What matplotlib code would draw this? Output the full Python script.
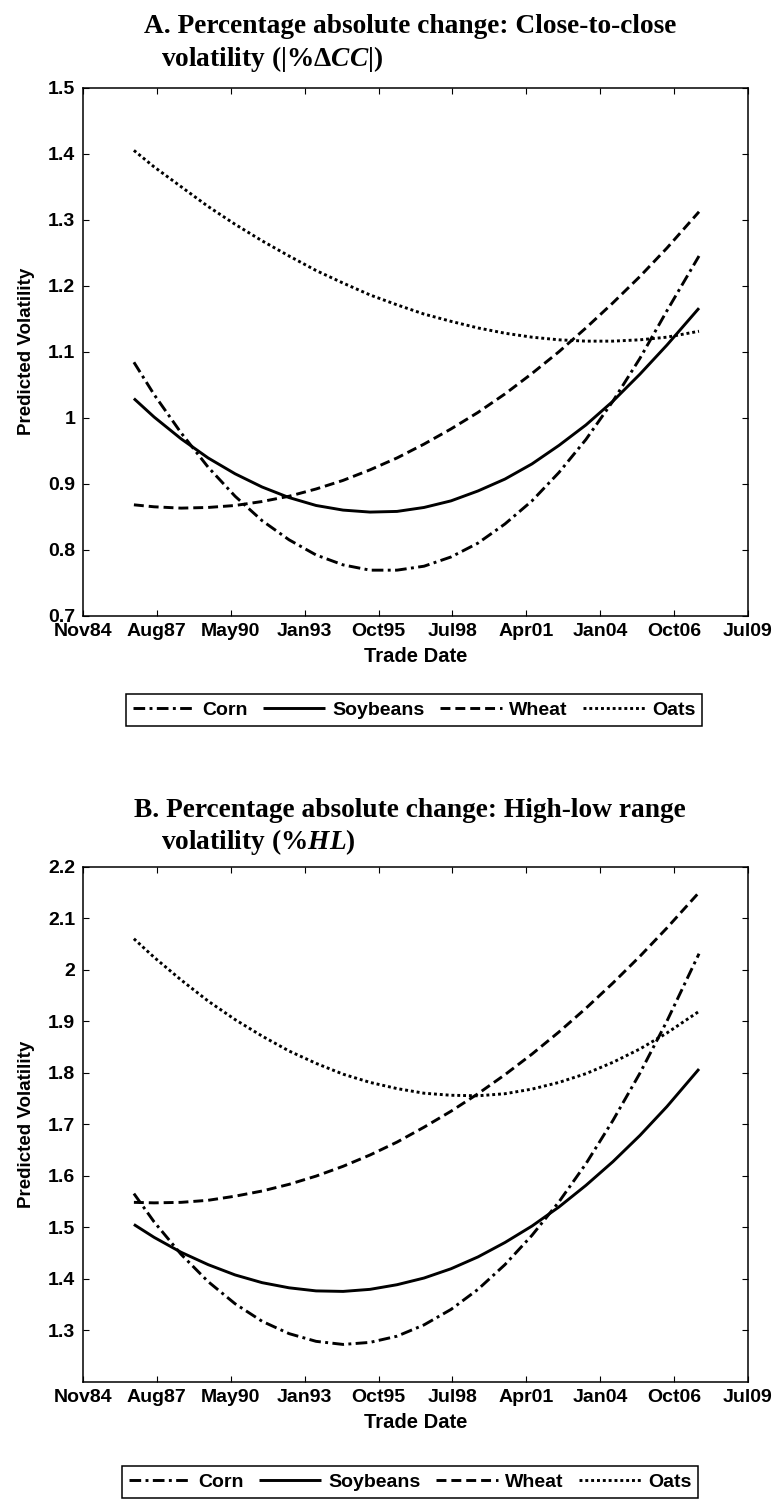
import matplotlib
matplotlib.use('Agg')
import matplotlib.pyplot as plt
import matplotlib.dates as mdates
from datetime import datetime, timedelta

# ---------------- data ----------------
sample_years = [1986.75, 1987.5, 1988.5, 1989.5, 1990.5, 1991.5, 1992.5, 1993.5,
                1994.5, 1995.5, 1996.5, 1997.5, 1998.5, 1999.5, 2000.5, 2001.5,
                2002.5, 2003.5, 2004.5, 2005.5, 2006.5, 2007.69]

# Panel A: close-to-close volatility
corn_cc = [1.084, 1.035, 0.977, 0.925, 0.881, 0.844, 0.815, 0.792, 0.777, 0.769, 0.769,
           0.775, 0.789, 0.810, 0.839, 0.874, 0.917, 0.967, 1.025, 1.090, 1.162, 1.245]
soy_cc = [1.029, 1.001, 0.968, 0.939, 0.915, 0.895, 0.879, 0.867, 0.860, 0.857, 0.858,
          0.864, 0.874, 0.889, 0.907, 0.930, 0.958, 0.989, 1.025, 1.066, 1.110, 1.166]
wheat_cc = [0.868, 0.865, 0.863, 0.864, 0.867, 0.873, 0.881, 0.892, 0.905, 0.921, 0.939,
            0.960, 0.983, 1.008, 1.036, 1.067, 1.100, 1.136, 1.174, 1.214, 1.257, 1.312]
oats_cc = [1.405, 1.380, 1.350, 1.320, 1.293, 1.268, 1.245, 1.223, 1.204, 1.186, 1.171,
           1.157, 1.146, 1.136, 1.128, 1.122, 1.118, 1.116, 1.116, 1.118, 1.122, 1.131]

# Panel B: high-low range volatility
corn_hl = [1.565, 1.510, 1.447, 1.394, 1.351, 1.317, 1.293, 1.278, 1.272, 1.276, 1.288,
           1.310, 1.340, 1.379, 1.427, 1.484, 1.549, 1.623, 1.707, 1.799, 1.900, 2.031]
soy_hl = [1.505, 1.480, 1.451, 1.427, 1.407, 1.392, 1.382, 1.376, 1.375, 1.379, 1.388,
          1.401, 1.419, 1.442, 1.470, 1.502, 1.539, 1.581, 1.627, 1.678, 1.734, 1.807]
wheat_hl = [1.548, 1.547, 1.548, 1.552, 1.560, 1.570, 1.583, 1.599, 1.618, 1.640, 1.665,
            1.694, 1.725, 1.759, 1.796, 1.836, 1.879, 1.925, 1.974, 2.026, 2.081, 2.150]
oats_hl = [2.060, 2.024, 1.980, 1.939, 1.903, 1.871, 1.842, 1.818, 1.797, 1.781, 1.769,
           1.760, 1.756, 1.755, 1.759, 1.768, 1.781, 1.798, 1.820, 1.846, 1.877, 1.919]

series_names = ['Corn', 'Soybeans', 'Wheat', 'Oats']
x_tick_labels = ['Nov84', 'Aug87', 'May90', 'Jan93', 'Oct95', 'Jul98',
                 'Apr01', 'Jan04', 'Oct06', 'Jul09']
x_tick_start = '1984-11-12'
x_tick_step_days = 1000
yticks_a = [0.7, 0.8, 0.9, 1.0, 1.1, 1.2, 1.3, 1.4, 1.5]
ytick_labels_a = ['0.7', '0.8', '0.9', '1', '1.1', '1.2', '1.3', '1.4', '1.5']
yticks_b = [1.3, 1.4, 1.5, 1.6, 1.7, 1.8, 1.9, 2.0, 2.1, 2.2]
ytick_labels_b = ['1.3', '1.4', '1.5', '1.6', '1.7', '1.8', '1.9', '2', '2.1', '2.2']

# ---------------- style ----------------
plt.rcParams['font.family'] = ['Liberation Sans', 'DejaVu Sans']
plt.rcParams['font.weight'] = 'bold'
plt.rcParams['mathtext.fontset'] = 'custom'
plt.rcParams['mathtext.it'] = 'Liberation Serif:italic:bold'
plt.rcParams['mathtext.rm'] = 'Liberation Serif:bold'
plt.rcParams['mathtext.bf'] = 'Liberation Serif:bold'


def year_to_date(y):
    yi = int(y)
    return datetime(yi, 1, 1) + timedelta(days=(y - yi) * 365.25)


xdates = [mdates.date2num(year_to_date(y)) for y in sample_years]
t0 = mdates.date2num(datetime.strptime(x_tick_start, '%Y-%m-%d'))
xticks = [t0 + k * x_tick_step_days for k in range(len(x_tick_labels))]

styles = {
    'Corn': (0, (4.0, 1.5, 1.0, 1.5)),
    'Soybeans': '-',
    'Wheat': (0, (3.4, 1.7)),
    'Oats': (0, (1.0, 1.0)),
}

W, H = 778, 1501
fig = plt.figure(figsize=(W / 100, H / 100), dpi=100)


def fx(px):
    return px / W


def fy(py):
    return 1 - py / H


def make_panel(rect, data, yticks, ylabels, ylim):
    ax = fig.add_axes(rect)
    handles = []
    for name, vals in zip(series_names, data):
        h, = ax.plot(xdates, vals, color='black', lw=2.1, linestyle=styles[name],
                     label=name, solid_capstyle='butt', dash_capstyle='butt')
        handles.append(h)
    ax.set_xlim(xticks[0], xticks[-1])
    ax.set_ylim(*ylim)
    ax.set_xticks(xticks)
    ax.set_xticklabels(x_tick_labels)
    ax.set_yticks(yticks)
    ax.set_yticklabels(ylabels)
    ax.tick_params(direction='in', top=True, right=True, length=4.3, width=0.8,
                   labelsize=14, pad=5.5)
    for lab in ax.get_xticklabels() + ax.get_yticklabels():
        lab.set_fontweight('bold')
    for sp in ax.spines.values():
        sp.set_linewidth(1.1)
    ax.set_xlabel('Trade Date', fontsize=14.5, fontweight='bold', labelpad=5)
    ax.set_ylabel('Predicted Volatility', fontsize=13.5, fontweight='bold')
    ax.yaxis.set_label_coords(-0.072, 0.5)
    return ax, handles


# Panel A
axA, hA = make_panel([fx(83), fy(615.7), fx(748) - fx(83), (615.7 - 87.7) / H],
                     [corn_cc, soy_cc, wheat_cc, oats_cc], yticks_a, ytick_labels_a, (0.7, 1.5))
# Panel B
axB, hB = make_panel([fx(83), fy(1381.5), fx(748) - fx(83), (1381.5 - 866.7) / H],
                     [corn_hl, soy_hl, wheat_hl, oats_hl], yticks_b, ytick_labels_b, (1.2, 2.2))

title_kw = dict(fontfamily='Liberation Serif', fontweight='bold', fontsize=19.7,
                ha='left', va='baseline')
fig.text(fx(144), fy(33), 'A. Percentage absolute change: Close-to-close', **title_kw)
fig.text(fx(161), fy(66.5), r'volatility (|%Δ$\mathit{CC}$|)', **title_kw)
fig.text(fx(134), fy(817), 'B. Percentage absolute change: High-low range', **title_kw)
fig.text(fx(161), fy(849), r'volatility (%$\mathit{HL}$)', **title_kw)

leg_kw = dict(loc='center', ncol=4, frameon=True, fancybox=False, shadow=False,
              prop={'family': 'Liberation Sans', 'weight': 'bold', 'size': 14},
              handlelength=3.2, handletextpad=0.35, columnspacing=0.8,
              borderpad=0.35, edgecolor='black', framealpha=1)
legA = fig.legend(handles=hA, bbox_to_anchor=(fx(414), fy(710)), **leg_kw)
legA.get_frame().set_linewidth(1.1)
legB = fig.legend(handles=hB, bbox_to_anchor=(fx(410), fy(1482)), **leg_kw)
legB.get_frame().set_linewidth(1.1)

fig.savefig('out.png', dpi=100)
